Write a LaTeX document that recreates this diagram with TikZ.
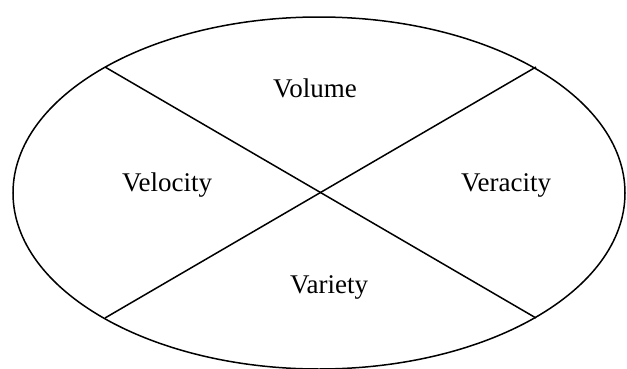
\documentclass[tikz,border=0pt]{standalone}
\usepackage{fontspec}
\setmainfont{Liberation Serif}
\begin{document}
\begin{tikzpicture}[x=1pt,y=1pt,
  lbl/.style={anchor=base,font=\fontsize{27}{31}\selectfont,inner sep=0pt},
  edge/.style={line width=1.5pt,black}]
\useasboundingbox (0,0) rectangle (627,368);
\draw[edge] (319,175) ellipse [x radius=306, y radius=176];
\coordinate (ul) at (105,301);
\coordinate (ur) at (536,301);
\coordinate (ll) at (105,50);
\coordinate (lr) at (536,50);
\draw[edge] (ul) -- (lr);
\draw[edge] (ur) -- (ll);
\node[lbl] (vol) at (315,270.5) {Volume};
\node[lbl] (vel) at (167,176.5) {Velocity};
\node[lbl] (ver) at (506,176.5) {Veracity};
\node[lbl] (var) at (329,75) {Variety};
\end{tikzpicture}
\end{document}
